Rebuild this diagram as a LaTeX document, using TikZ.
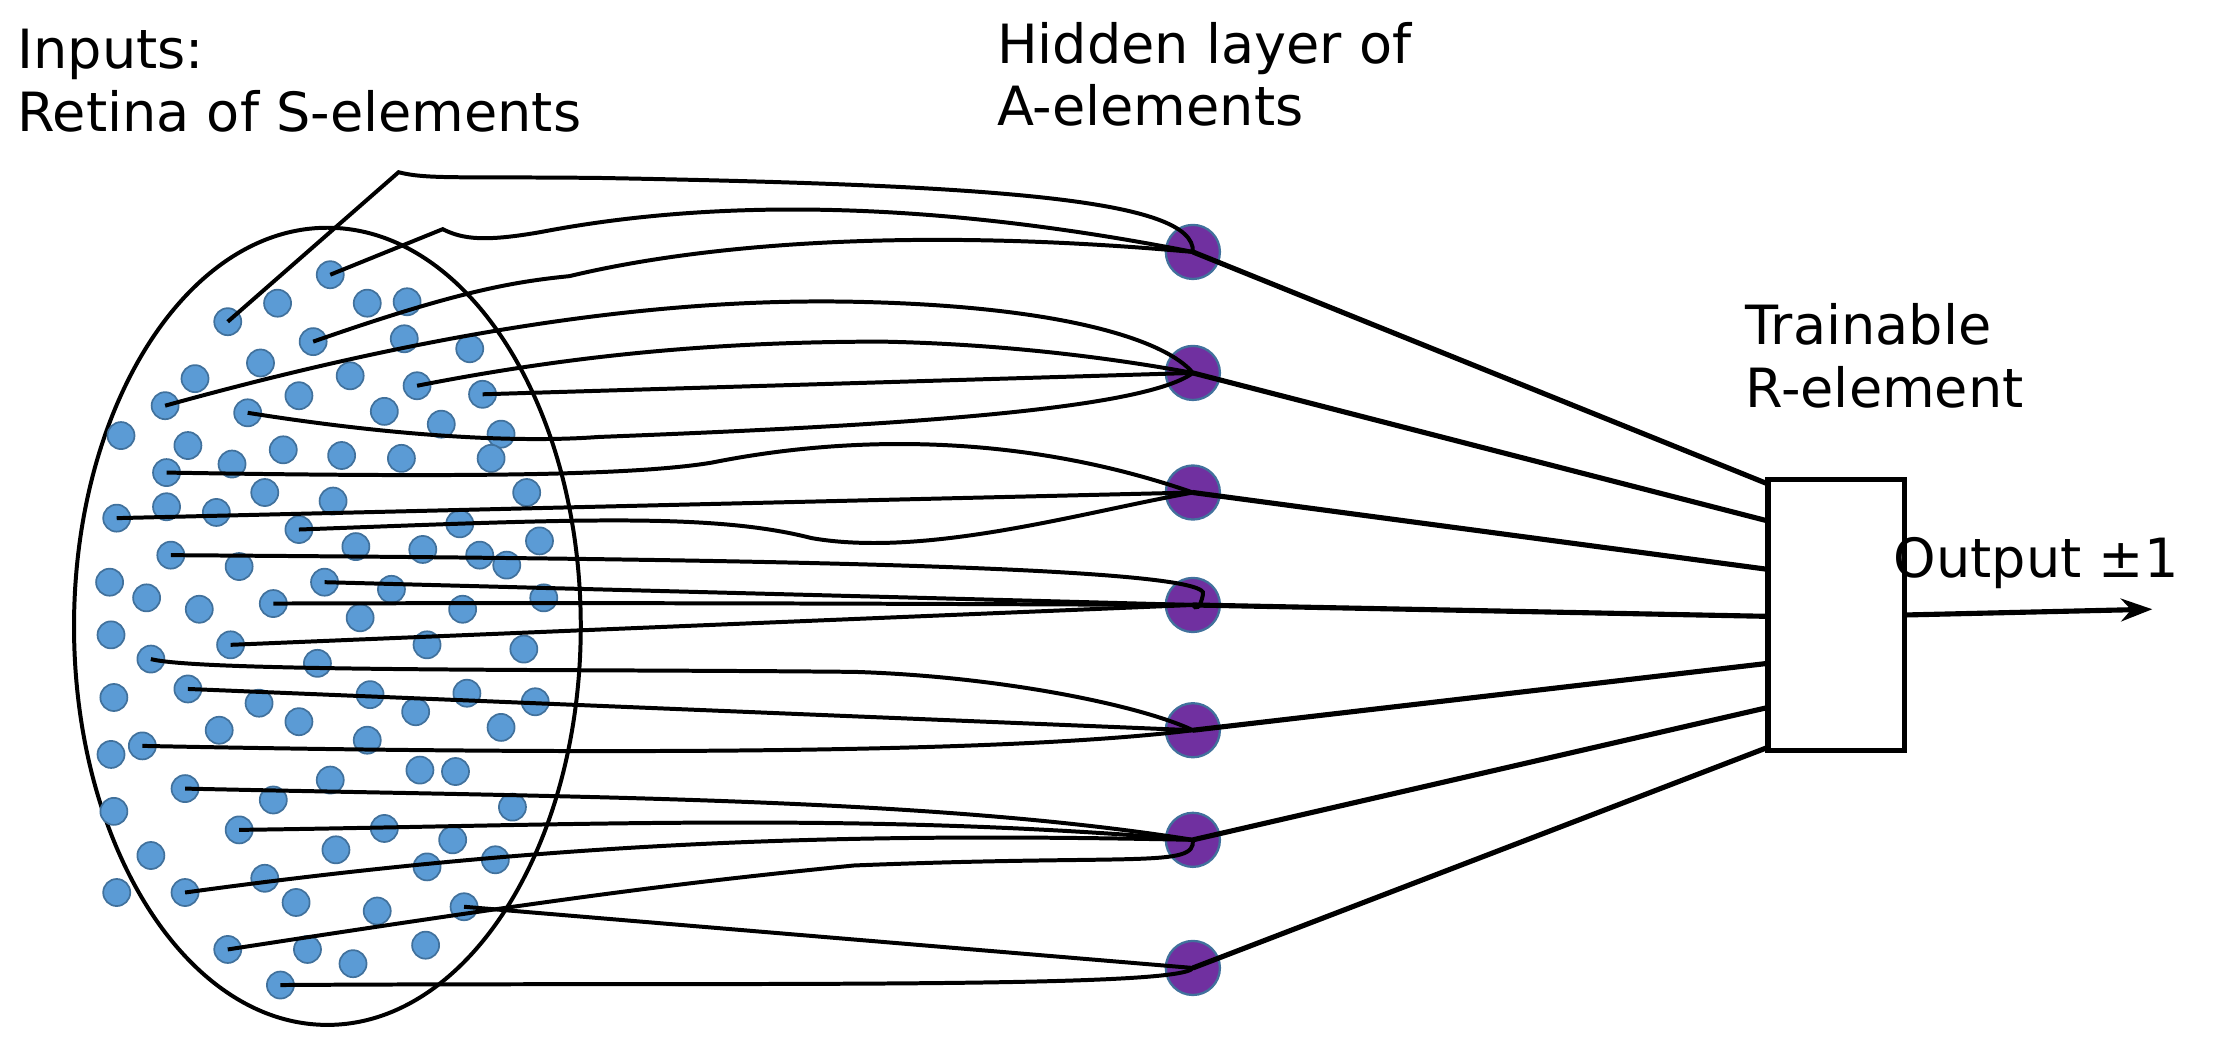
\documentclass[tikz,border=0pt]{standalone}
\usepackage{fontspec}
\setmainfont{DejaVu Sans}
\usetikzlibrary{shapes.geometric,arrows.meta}
\begin{document}
\begin{tikzpicture}[x=0.5pt,y=-0.5pt,
  sdot/.style={circle,fill={rgb,255:red,91;green,155;blue,213},draw={rgb,255:red,65;green,113;blue,156},line width=0.6pt,minimum size=9.5pt,inner sep=0pt},
  hnode/.style={circle,fill={rgb,255:red,112;green,48;blue,160},draw={rgb,255:red,65;green,113;blue,156},line width=0.8pt,minimum size=19pt,inner sep=0pt},
  wire/.style={line width=1.4pt},
  thick wire/.style={line width=1.8pt},
  lbl/.style={anchor=north west,font=\fontsize{19}{22}\selectfont,align=left,inner sep=0pt}]
\useasboundingbox (0,0) rectangle (1568,737);
\node[draw,line width=1.4pt,ellipse,minimum width=178pt,minimum height=280pt] (ret) at (230,440) {};
\foreach \x/\y [count=\i] in {232/193,160/226,195/213,258/213,286/212,220/240,284/238,330/245,137/266,183/255,246/264,210/278,293/271,339/277,116/285,174/290,270/289,310/298,352/305,85/306,132/313,163/326,199/316,240/320,282/322,345/322,117/332,186/346,234/352,370/346,82/364,117/356,152/360,210/372,323/368,120/390,168/398,250/384,297/386,337/390,379/380,77/409,103/420,140/428,192/424,228/409,275/414,356/397,382/420,78/446,106/463,162/453,253/434,300/453,325/428,368/456,80/490,132/484,182/494,223/466,260/488,292/500,328/487,376/493,100/524,78/530,154/513,210/507,258/520,352/511,130/554,192/562,232/548,295/541,320/542,80/570,168/583,236/597,270/582,318/590,106/601,186/617,208/634,300/609,348/604,360/567,82/627,130/627,265/640,326/637,160/667,216/667,248/677,299/664,197/692}
  \node[sdot] (d\i) at (\x,\y) {};
\foreach \y [count=\i] in {177,262,346,425,513,590,680}
  \node[hnode] (h\i) at (838,\y) {};
\node[draw,line width=1.8pt,minimum width=48pt,minimum height=95pt,inner sep=0pt] (box) at (1290,432) {};
\foreach \i/\y in {1/340,2/366,3/400,4/433,5/466,6/497,7/525}
  \coordinate (b\i) at (1242,\y);
\foreach \i in {1,...,7} \draw[thick wire] (h\i.center) -- (b\i);
\coordinate (out) at (1512,428);
\draw[thick wire,-{Stealth[length=11pt,width=8pt]}] (box.east) -- (out);
% h1
\draw[wire] (d2.center) -- (280,121) .. controls (300,126) and (320,124) .. (420,125) .. controls (700,130) and (840,140) .. (h1.center);
\draw[wire] (d1.center) -- (311,161) .. controls (325,168) and (340,170) .. (380,163) .. controls (500,140) and (650,140) .. (h1.center);
\draw[wire] (d6.center) .. controls (320,205) and (360,198) .. (400,194) .. controls (500,170) and (650,160) .. (h1.center);
% h2
\draw[wire] (d15.center) .. controls (350,220) and (500,210) .. (600,212) .. controls (750,215) and (820,240) .. (h2.center);
\draw[wire] (d13.center) .. controls (400,250) and (500,240) .. (620,240) .. controls (720,242) and (800,255) .. (h2.center);
\draw[wire] (d14.center) -- (h2.center);
\draw[wire] (d16.center) .. controls (300,310) and (380,310) .. (420,307) .. controls (600,300) and (800,290) .. (h2.center);
% h3
\draw[wire] (d27.center) .. controls (300,335) and (440,335) .. (500,325) .. controls (600,305) and (720,305) .. (h3.center);
\draw[wire] (d31.center) -- (h3.center);
\draw[wire] (d34.center) .. controls (400,365) and (500,360) .. (570,378) .. controls (650,392) and (760,360) .. (h3.center);
% h4
\draw[wire] (d36.center) .. controls (400,392) and (860,395) .. (845,418) .. controls (843,428) and (840,428) .. (h4.center);
\draw[wire] (d46.center) -- (h4.center);
\draw[wire] (d45.center) .. controls (500,423) and (800,425) .. (h4.center);
\draw[wire] (d52.center) -- (h4.center);
% h5
\draw[wire] (d51.center) .. controls (140,472) and (400,470) .. (600,472) .. controls (700,475) and (800,495) .. (h5.center);
\draw[wire] (d58.center) -- (h5.center);
\draw[wire] (d65.center) .. controls (400,530) and (700,530) .. (h5.center);
% h6
\draw[wire] (d71.center) .. controls (400,560) and (650,560) .. (h6.center);
\draw[wire] (d77.center) .. controls (400,580) and (600,570) .. (h6.center);
\draw[wire] (d88.center) .. controls (400,590) and (600,585) .. (h6.center);
\draw[wire] (d91.center) .. controls (400,630) and (480,620) .. (600,608) .. controls (800,600) and (840,610) .. (h6.center);
% h7
\draw[wire] (d90.center) -- (h7.center);
\draw[wire] (d95.center) .. controls (500,690) and (830,695) .. (h7.center);
% labels
\node[lbl] (t1) at (12,20) {Inputs:\\Retina of S-elements};
\node[lbl] (t2) at (700,15) {Hidden layer of\\A-elements};
\node[lbl] (t3) at (1226,213) {Trainable\\R-element};
\node[lbl,anchor=south west] (t4) at (1330,414) {Output ±1};
\end{tikzpicture}
\end{document}
